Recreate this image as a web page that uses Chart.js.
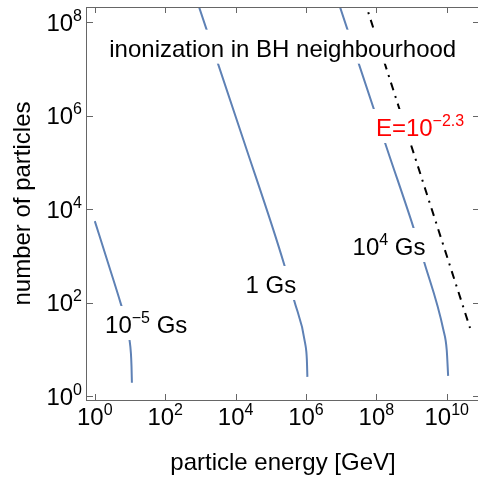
<!DOCTYPE html>
<html><head><meta charset="utf-8">
<script src="https://cdn.jsdelivr.net/npm/chart.js@4/dist/chart.umd.min.js"></script>
<style>
html,body{margin:0;padding:0;background:#fff;overflow:hidden;width:478px;height:481px}
#wrap{position:absolute;left:0;top:0;width:484px;height:481px}
</style>
</head><body><div id="wrap"><canvas id="c" width="484" height="481"></canvas></div>
<script>
// axis ticks (powers of ten)
const xTickExps = [0, 2, 4, 6, 8, 10];
const yTickExps = [0, 2, 4, 6, 8];
// series values, read as log10(E [GeV]) and log10(N)
const gsM5LogE = [0, 0.37, 0.74, 0.90, 0.986, 1.026, 1.043, 1.054];
const gsM5LogN = [3.75, 2.87, 1.98, 1.55, 1.21, 0.925, 0.64, 0.295];
const gs1LogE  = [2.885, 4.224, 5.39, 5.665, 5.977, 6.026, 6.04];
const gs1LogN  = [8.5, 5.483, 2.80, 2.05, 1.137, 0.78, 0.42];
const gs4LogE  = [6.891, 8.315, 9.037, 9.358, 9.906, 10.0, 10.04];
const gs4LogN  = [8.5, 5.27, 3.654, 2.875, 1.42, 0.994, 0.44];
const limitLogE = [7.648, 10.662];
const limitLogN = [8.5, 1.464];

const FONT = '"Liberation Sans", Arial, Helvetica, sans-serif';
const BLUE = '#5E81B5';
const FRAME = '#666666';

const pts = (ex, ey) => ex.map((v, i) => ({x: Math.pow(10, v), y: Math.pow(10, ey[i])}));

// in-plot labels: anchor = centre x / baseline y in data exponents
const annotations = [
  {e: 5.34,  n: 7.265, color: '#000', parts: [{t: 'inonization in BH neighbourhood'}]},
  {e: 1.46,  n: 1.357, color: '#000', parts: [{t: '10'}, {t: '\u22125', sup: true}, {t: ' Gs'}]},
  {e: 5.004, n: 2.213, color: '#000', parts: [{t: '1 Gs'}]},
  {e: 8.361, n: 3.025, color: '#000', parts: [{t: '10'}, {t: '4', sup: true}, {t: ' Gs'}]},
  {e: 9.242, n: 5.569, color: '#FF0000', parts: [{t: 'E=10'}, {t: '\u22122.3', sup: true}]}
];

const MAIN = 24, SUP = 16, RAISE = 10;
function partsWidth(c, parts) {
  let w = 0;
  parts.forEach(p => { c.font = (p.sup ? SUP : MAIN) + 'px ' + FONT; w += c.measureText(p.t).width; });
  return w;
}
function drawParts(c, parts, x, y, color) {
  c.fillStyle = color; c.textAlign = 'left'; c.textBaseline = 'alphabetic';
  parts.forEach(p => {
    c.font = (p.sup ? SUP : MAIN) + 'px ' + FONT;
    c.fillText(p.t, x, p.sup ? y - RAISE : y);
    x += c.measureText(p.t).width;
  });
}

const decor = {
  id: 'decor',
  afterDatasetsDraw(chart) {
    const c = chart.ctx, xs = chart.scales.x, ys = chart.scales.y;
    annotations.forEach(a => {
      const cx = xs.getPixelForValue(Math.pow(10, a.e));
      const by = ys.getPixelForValue(Math.pow(10, a.n));
      const w = partsWidth(c, a.parts);
      c.save();
      c.fillStyle = '#fff';
      c.fillRect(cx - w / 2 - 6, by - 27, w + 12, 34);
      drawParts(c, a.parts, cx - w / 2, by, a.color);
      c.restore();
    });
  },
  afterDraw(chart) {
    const c = chart.ctx, xs = chart.scales.x, ys = chart.scales.y, A = chart.chartArea;
    c.save();
    c.strokeStyle = FRAME; c.lineWidth = 1;
    c.beginPath();
    c.moveTo(A.left - 0.5, A.top + 0.5); c.lineTo(A.right + 0.5, A.top + 0.5);
    c.moveTo(A.right + 0.5, A.top); c.lineTo(A.right + 0.5, A.bottom);
    c.moveTo(A.left - 0.5, A.top); c.lineTo(A.left - 0.5, A.bottom + 1);
    c.moveTo(A.left - 1, A.bottom + 0.5); c.lineTo(A.right + 1, A.bottom + 0.5);
    const TL = 6;
    xs.ticks.forEach(t => {
      const px = Math.round(xs.getPixelForValue(t.value)) + 0.5;
      c.moveTo(px, A.top); c.lineTo(px, A.top + TL);
      c.moveTo(px, A.bottom); c.lineTo(px, A.bottom - TL);
    });
    ys.ticks.forEach(t => {
      const py = Math.round(ys.getPixelForValue(t.value)) + 0.5;
      c.moveTo(A.left, py); c.lineTo(A.left + TL, py);
      c.moveTo(A.right, py); c.lineTo(A.right - TL, py);
    });
    c.stroke();
    // tick labels 10^k
    xs.ticks.forEach(t => {
      const k = Math.round(Math.log10(t.value));
      const parts = [{t: '10'}, {t: String(k), sup: true}];
      const w = partsWidth(c, parts);
      drawParts(c, parts, xs.getPixelForValue(t.value) - w / 2, A.bottom + 25, '#000');
    });
    ys.ticks.forEach(t => {
      const k = Math.round(Math.log10(t.value));
      const parts = [{t: '10'}, {t: String(k), sup: true}];
      const w = partsWidth(c, parts);
      drawParts(c, parts, A.left - 5 - w, ys.getPixelForValue(t.value) + 8.5, '#000');
    });
    c.restore();
  }
};

const line = (data, color, width, dash) => ({
  data, borderColor: color, borderWidth: width, borderDash: dash || [],
  pointRadius: 0, fill: false, cubicInterpolationMode: 'monotone', borderCapStyle: 'butt'
});

new Chart(document.getElementById('c'), {
  type: 'line',
  data: {
    datasets: [
      line(pts(gsM5LogE, gsM5LogN), BLUE, 2),
      line(pts(gs1LogE, gs1LogN), BLUE, 2),
      line(pts(gs4LogE, gs4LogN), BLUE, 2),
      Object.assign(line(pts(limitLogE, limitLogN), '#000', 2, [8, 6, 2, 6]), {cubicInterpolationMode: 'default', tension: 0})
    ]
  },
  options: {
    responsive: false, animation: false, devicePixelRatio: 1,
    layout: {padding: {left: 0, top: 7, right: 5, bottom: 0}},
    plugins: {legend: {display: false}, tooltip: {enabled: false}},
    scales: {
      x: {
        type: 'logarithmic', position: 'bottom',
        min: Math.pow(10, -0.216), max: Math.pow(10, 10.917),
        afterBuildTicks: s => { s.ticks = xTickExps.map(e => ({value: Math.pow(10, e)})); },
        afterFit: s => { s.height = 81; },
        ticks: {display: false},
        grid: {display: false}, border: {display: false},
        title: {display: true, text: 'particle energy [GeV]', color: '#000',
                font: {family: FONT, size: 24}, padding: {top: 0, bottom: 3}}
      },
      y: {
        type: 'logarithmic', position: 'left',
        min: Math.pow(10, -0.075), max: Math.pow(10, 8.327),
        afterBuildTicks: s => { s.ticks = yTickExps.map(e => ({value: Math.pow(10, e)})); },
        afterFit: s => { s.width = 87; },
        ticks: {display: false},
        grid: {display: false}, border: {display: false},
        title: {display: true, text: 'number of particles', color: '#000',
                font: {family: FONT, size: 24}, padding: {top: 8.6, bottom: 0}}
      }
    }
  },
  plugins: [decor]
});
</script>
</body></html>
